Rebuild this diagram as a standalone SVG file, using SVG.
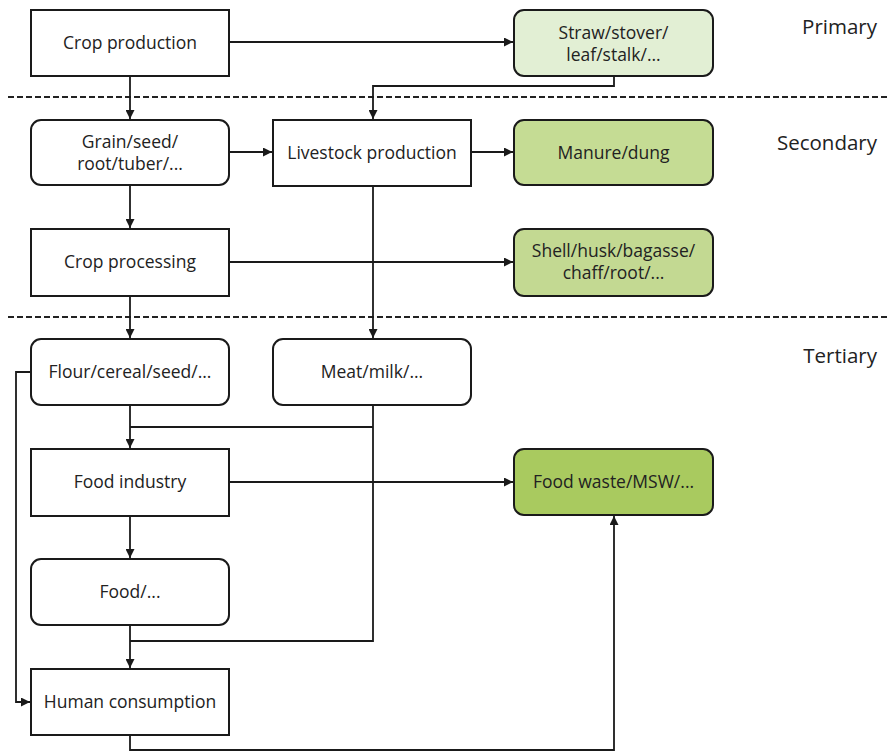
<svg xmlns="http://www.w3.org/2000/svg" width="889" height="751" viewBox="0 0 889 751">
  <style>
    .box { fill: #ffffff; stroke: #1a1a1a; stroke-width: 2; }
    .res { stroke: #1a1a1a; stroke-width: 2; }
    .lbl { font-family: "Open Sans", "Noto Sans", "Liberation Sans", sans-serif; font-size: 17.5px; fill: #222222; text-anchor: middle; }
    .tier { font-family: "Open Sans", "Noto Sans", "Liberation Sans", sans-serif; font-size: 20.5px; fill: #222222; text-anchor: end; }
    .sep { stroke: #222222; stroke-width: 2; stroke-dasharray: 6 3; fill: none; }
    .wire { stroke: #1a1a1a; stroke-width: 1.8; fill: none; }
    .arr { marker-end: url(#head); }
  </style>
  <defs>
    <marker id="head" viewBox="0 0 10 10" refX="10" refY="5" markerWidth="5" markerHeight="5" orient="auto" markerUnits="strokeWidth">
      <path d="M0,0 L10,5 L0,10 z" fill="#1a1a1a"/>
    </marker>
  </defs>
  <rect width="889" height="751" fill="#ffffff"/>

  <!-- tier separators and labels -->
  <g id="tiers">
    <line class="sep" x1="8" y1="97" x2="889" y2="97"/>
    <line class="sep" x1="8" y1="317" x2="889" y2="317"/>
    <text class="tier" x="877" y="34">Primary</text>
    <text class="tier" x="877" y="150">Secondary</text>
    <text class="tier" x="877" y="363">Tertiary</text>
  </g>

  <!-- connectors -->
  <g id="connectors">
    <path class="wire arr" d="M229,42 H513"/>
    <path class="wire arr" d="M130,76 V119"/>
    <path class="wire arr" d="M614,76 V86 H373 V119"/>
    <path class="wire arr" d="M229,152 H272"/>
    <path class="wire arr" d="M471,152 H513"/>
    <path class="wire arr" d="M130,185 V228"/>
    <path class="wire arr" d="M373,186 V338"/>
    <path class="wire arr" d="M229,262 H513"/>
    <path class="wire arr" d="M130,296 V338"/>
    <path class="wire arr" d="M130,405 V448"/>
    <path class="wire" d="M373,405 V641 H130"/>
    <path class="wire" d="M373,427 H130"/>
    <path class="wire arr" d="M229,482 H513"/>
    <path class="wire arr" d="M130,516 V558"/>
    <path class="wire arr" d="M130,625 V668"/>
    <path class="wire arr" d="M31,372 H16 V702 H30"/>
    <path class="wire arr" d="M130,735 V750 H614 V516"/>
  </g>

  <!-- nodes -->
  <g id="crop-production">
    <rect class="box" x="31" y="10" width="198" height="66"/>
    <text class="lbl" x="130" y="49">Crop production</text>
  </g>
  <g id="straw">
    <rect class="res" x="514" y="10" width="199" height="66" rx="10" fill="#e2efd4"/>
    <text class="lbl" x="613.5" y="39">Straw/stover/</text>
    <text class="lbl" x="613.5" y="61">leaf/stalk/...</text>
  </g>
  <g id="grain">
    <rect class="box" x="31" y="120" width="198" height="65" rx="10"/>
    <text class="lbl" x="130" y="148">Grain/seed/</text>
    <text class="lbl" x="130" y="170">root/tuber/...</text>
  </g>
  <g id="livestock-production">
    <rect class="box" x="273" y="120" width="198" height="66"/>
    <text class="lbl" x="372" y="159">Livestock production</text>
  </g>
  <g id="manure">
    <rect class="res" x="514" y="120" width="199" height="65" rx="10" fill="#c5dc94"/>
    <text class="lbl" x="613.5" y="159">Manure/dung</text>
  </g>
  <g id="crop-processing">
    <rect class="box" x="31" y="229" width="198" height="67"/>
    <text class="lbl" x="130" y="268">Crop processing</text>
  </g>
  <g id="shell">
    <rect class="res" x="514" y="229" width="199" height="67" rx="10" fill="#c3d992"/>
    <text class="lbl" x="613.5" y="257">Shell/husk/bagasse/</text>
    <text class="lbl" x="613.5" y="279">chaff/root/...</text>
  </g>
  <g id="flour">
    <rect class="box" x="31" y="339" width="198" height="66" rx="10"/>
    <text class="lbl" x="130" y="378">Flour/cereal/seed/...</text>
  </g>
  <g id="meat">
    <rect class="box" x="273" y="339" width="198" height="66" rx="10"/>
    <text class="lbl" x="372" y="378">Meat/milk/...</text>
  </g>
  <g id="food-industry">
    <rect class="box" x="31" y="449" width="198" height="67"/>
    <text class="lbl" x="130" y="488">Food industry</text>
  </g>
  <g id="food-waste">
    <rect class="res" x="514" y="449" width="199" height="66" rx="10" fill="#a9ca5f"/>
    <text class="lbl" x="613.5" y="488">Food waste/MSW/...</text>
  </g>
  <g id="food">
    <rect class="box" x="31" y="559" width="198" height="66" rx="10"/>
    <text class="lbl" x="130" y="598">Food/...</text>
  </g>
  <g id="human-consumption">
    <rect class="box" x="31" y="669" width="198" height="66"/>
    <text class="lbl" x="130" y="708">Human consumption</text>
  </g>
</svg>
